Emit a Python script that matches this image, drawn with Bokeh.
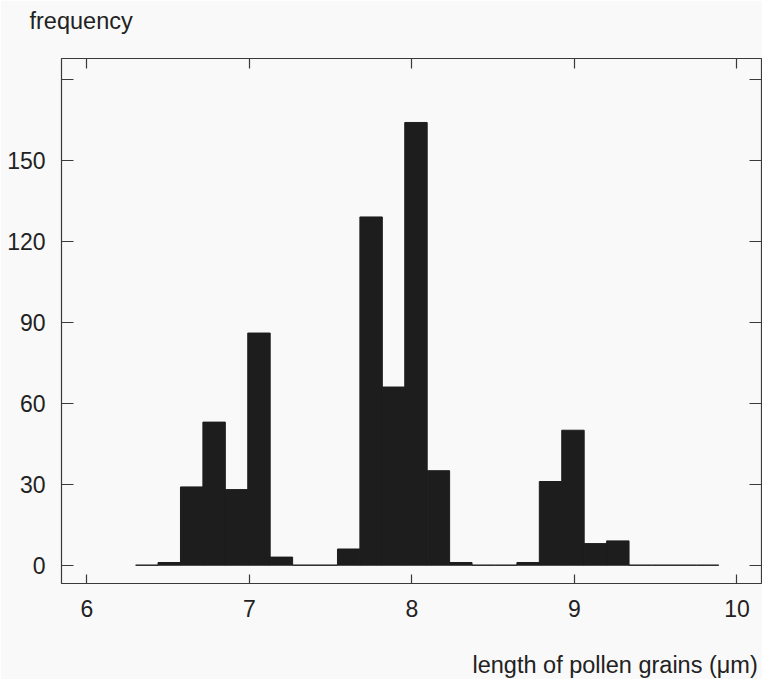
from bokeh.plotting import figure
from bokeh.models import LinearAxis, FixedTicker, Range1d, ColumnDataSource, Title
from bokeh.embed import file_html
from bokeh.resources import INLINE

# ---- data ----
bin_left = [6.300, 6.438, 6.576, 6.714, 6.852, 6.990, 7.128, 7.266, 7.404, 7.542,
            7.680, 7.818, 7.956, 8.094, 8.232, 8.370, 8.508, 8.646, 8.784, 8.922,
            9.060, 9.198, 9.336, 9.474, 9.612, 9.750]
bin_right = [6.438, 6.576, 6.714, 6.852, 6.990, 7.128, 7.266, 7.404, 7.542, 7.680,
             7.818, 7.956, 8.094, 8.232, 8.370, 8.508, 8.646, 8.784, 8.922, 9.060,
             9.198, 9.336, 9.474, 9.612, 9.750, 9.888]
counts = [0, 1, 29, 53, 28, 86, 3, 0, 0, 6,
          129, 66, 164, 35, 1, 0, 0, 1, 31, 50,
          8, 9, 0, 0, 0, 0]
x_ticks = [6, 7, 8, 9, 10]
y_ticks = [0, 30, 60, 90, 120, 150, 180]
y_tick_labels = {0: "0", 30: "30", 60: "60", 90: "90", 120: "120", 150: "150", 180: ""}
x_title = "length of pollen grains (μm)"
y_title = "frequency"

FONT = "Liberation Sans"
BG = "#f9f9f9"
INK = "#222222"
BAR = "#1d1d1d"

p = figure(frame_width=700, frame_height=525,
           x_range=Range1d(5.844, 10.151), y_range=Range1d(-6.78, 187.7),
           output_backend="svg", toolbar_location=None,
           min_border_left=61, min_border_top=58, min_border_right=1, min_border_bottom=96,
           x_axis_location=None, y_axis_location=None)
p.background_fill_color = BG
p.border_fill_color = BG
p.outline_line_color = "#3a3a3a"
p.outline_line_width = 1.2
p.xgrid.visible = False
p.ygrid.visible = False

src = ColumnDataSource(dict(left=bin_left, right=bin_right, top=counts, bottom=[0] * len(counts)))
p.quad(left="left", right="right", top="top", bottom="bottom", source=src,
       fill_color=BAR, line_color=BAR, line_width=1)

def style(ax, ticks, tick_len, show_labels, standoff):
    ax.ticker = FixedTicker(ticks=ticks)
    ax.major_tick_in = tick_len
    ax.major_tick_out = 0
    ax.minor_tick_in = 0
    ax.minor_tick_out = 0
    ax.major_tick_line_color = "#3a3a3a"
    ax.major_tick_line_width = 1.2
    ax.axis_line_color = None
    if show_labels:
        ax.major_label_text_font = FONT
        ax.major_label_text_font_size = "23px"
        ax.major_label_text_color = INK
        ax.major_label_standoff = standoff
    else:
        ax.major_label_text_font_size = "0px"
        ax.major_label_standoff = 0
        ax.major_label_text_color = None

def spacer(gap):
    # blank title used only to reserve vertical room
    return Title(text=" ", text_font_size="1px", standoff=gap, text_color=BG)

top = LinearAxis()
style(top, x_ticks, 10, False, 0)
p.add_layout(top, "above")
p.add_layout(spacer(22), "above")
p.add_layout(Title(text=y_title, align="left", offset=-32, standoff=0, vertical_align="bottom",
                   text_font=FONT, text_font_size="23.5px", text_font_style="normal",
                   text_color=INK), "above")

right = LinearAxis()
style(right, y_ticks, 12, False, 0)
p.add_layout(right, "right")

bottom = LinearAxis()
style(bottom, x_ticks, 9, True, 16)
p.add_layout(bottom, "below")
p.add_layout(spacer(27), "below")
p.add_layout(Title(text=x_title, align="left", offset=411, standoff=0, vertical_align="bottom",
                   text_font=FONT, text_font_size="23.5px", text_font_style="normal",
                   text_color=INK), "below")

left = LinearAxis()
style(left, y_ticks, 12, True, 16)
left.major_label_overrides = y_tick_labels
p.add_layout(left, "left")

open("out.html", "w").write(file_html(p, INLINE))
